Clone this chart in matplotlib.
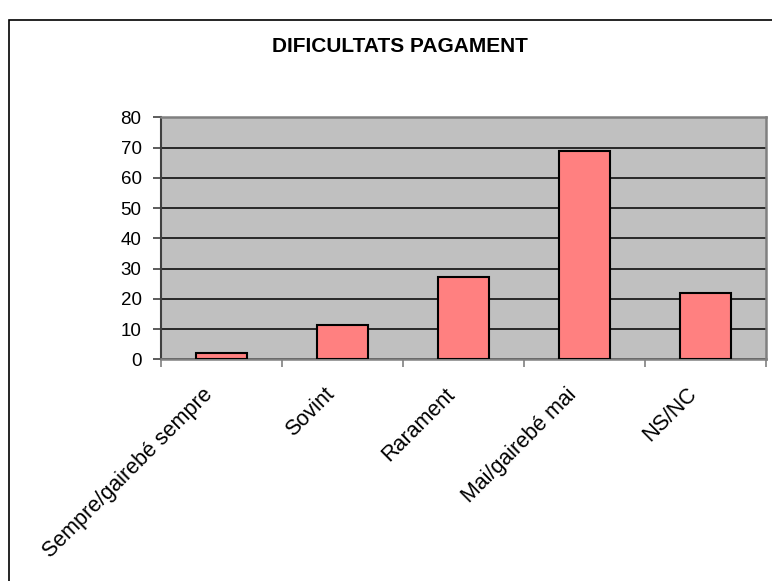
import matplotlib
matplotlib.use("Agg")
import matplotlib.pyplot as plt
from matplotlib.patches import Rectangle
from matplotlib.transforms import ScaledTranslation

CATEGORIES = ["Sempre/gairebé sempre", "Sovint", "Rarament", "Mai/gairebé mai", "NS/NC"]
VALUES = [2.0, 11.2, 27.1, 68.8, 21.9]
Y_TICKS = [0, 10, 20, 30, 40, 50, 60, 70, 80]
TITLE = "DIFICULTATS PAGAMENT"

PLOT_BG, BAR_FC = "#c0c0c0", "#ff8080"
W, H = 772, 581

plt.rcParams["font.family"] = ["Liberation Sans", "DejaVu Sans"]

fig = plt.figure(figsize=(W / 100, H / 100), dpi=100)
fig.patch.set_facecolor("white")
ax = fig.add_axes([161 / W, 1 - 359.3 / H, 605 / W, 242 / H])
ax.set_facecolor(PLOT_BG)

# marc exterior del gràfic (només es veuen vores esquerra i superior)
fig.patches.append(Rectangle((9 / W, -0.1), 1.2, 1 - 20 / H + 0.1, transform=fig.transFigure,
                             fill=False, edgecolor="black", linewidth=1.2))

x = list(range(len(CATEGORIES)))
ax.bar(x, VALUES, width=0.415, color=BAR_FC, edgecolor="black", linewidth=1.5, zorder=3)

ax.set_xlim(-0.5, len(CATEGORIES) - 0.5)
ax.set_ylim(0, 80)
ax.set_yticks(Y_TICKS)
ax.tick_params(axis="y", labelsize=13.5, length=6, width=1.2, color="#404040", pad=8)
ax.yaxis.grid(True, color="black", linewidth=1.1)
ax.set_axisbelow(True)

ax.set_xticks(x)
ax.set_xticks([i - 0.5 for i in range(len(CATEGORIES) + 1)], minor=True)
ax.tick_params(axis="x", which="major", length=0, pad=23)
ax.tick_params(axis="x", which="minor", length=6, width=1.2, color="#808080")
labels = ax.set_xticklabels(CATEGORIES, rotation=45, ha="right", va="center",
                            rotation_mode="anchor", fontsize=15.5)
for lab in labels:
    lab.set_transform(lab.get_transform() + ScaledTranslation(-0.115, 0, fig.dpi_scale_trans))

for side in ("top", "right", "bottom"):
    ax.spines[side].set_color("#808080")
    ax.spines[side].set_linewidth(1.8)
ax.spines["left"].set_color("#404040")
ax.spines["left"].set_linewidth(1.5)

fig.text(400 / W, 1 - 47 / H, TITLE, ha="center", va="center", fontsize=15, fontweight="bold")

fig.savefig("out.png", dpi=100)
